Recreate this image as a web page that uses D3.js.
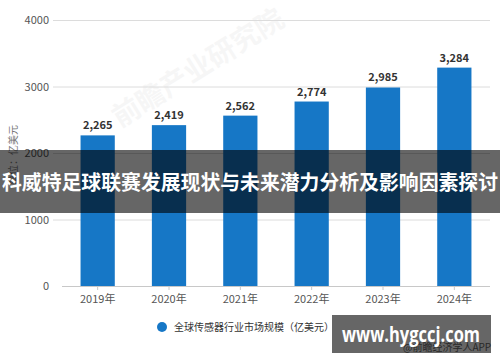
<!DOCTYPE html>
<html>
<head>
<meta charset="utf-8">
<script src="https://cdn.jsdelivr.net/npm/d3@7"></script>
<style>
  body { margin: 0; background: #fff; }
  svg { display: block; font-family: "Noto Sans CJK SC", "Noto Sans", sans-serif; }
</style>
</head>
<body>
<svg id="chart" width="500" height="362"></svg>
<script>
// data
var years = ["2019年", "2020年", "2021年", "2022年", "2023年", "2024年"];
var sizes = [2265, 2419, 2562, 2774, 2985, 3284];
var yTicks = [0, 1000, 2000, 3000, 4000];
var seriesName = "全球传感器行业市场规模（亿美元）";
var unitLabel = "单位：亿美元";
var bannerText = "科威特足球联赛发展现状与未来潜力分析及影响因素探讨";

var svg = d3.select("#chart");
var barColor = "#1677c6";

var x = d3.scaleBand().domain(years).range([62, 490]).paddingInner(0.52).paddingOuter(0.26);
var y = d3.scaleLinear().domain([0, 4000]).range([286, 20]);

// watermark
svg.append("text").attr("x", 0).attr("y", 0)
  .attr("transform", "translate(120,128) rotate(-32)")
  .attr("font-size", 28).attr("font-weight", "bold")
  .attr("fill", "#000").attr("opacity", 0.03)
  .text("前瞻产业研究院");

// grid lines
svg.append("g").selectAll("line").data(yTicks.filter(function(d){ return d > 0; }))
  .enter().append("line")
  .attr("x1", 53).attr("x2", 490)
  .attr("y1", function(d){ return y(d) + 0.5; }).attr("y2", function(d){ return y(d) + 0.5; })
  .attr("stroke", "#dcdcdc").attr("stroke-width", 1);

// y labels
svg.append("g").selectAll("text").data(yTicks).enter().append("text")
  .attr("x", 49).attr("y", function(d){ return y(d) + 4; })
  .attr("text-anchor", "end").attr("font-size", 11).attr("fill", "#555")
  .text(function(d){ return d; });

// unit label
svg.append("text")
  .attr("transform", "translate(17,155) rotate(-90)")
  .attr("text-anchor", "middle").attr("font-size", 10).attr("fill", "#777")
  .text(unitLabel);

// bars
svg.append("g").selectAll("rect").data(sizes).enter().append("rect")
  .attr("x", function(d, i){ return x(years[i]); })
  .attr("y", function(d){ return y(d); })
  .attr("width", x.bandwidth())
  .attr("height", function(d){ return y(0) - y(d); })
  .attr("fill", barColor);

// value labels
svg.append("g").selectAll("text").data(sizes).enter().append("text")
  .attr("x", function(d, i){ return x(years[i]) + x.bandwidth() / 2; })
  .attr("y", function(d){ return y(d) - 6; })
  .attr("text-anchor", "middle").attr("font-size", 11).attr("font-weight", "bold")
  .attr("fill", "#333")
  .text(function(d){ return d3.format(",")(d); });

// x axis
var xAxis = d3.axisBottom(x).tickSize(4).tickPadding(5);
var gx = svg.append("g").attr("transform", "translate(0," + y(0) + ")").call(xAxis);
gx.select(".domain").attr("stroke", "#c8c8c8").attr("d", "M62,0.5H490");
gx.selectAll(".tick line").attr("stroke", "#c8c8c8");
gx.selectAll(".tick text").attr("font-size", 11).attr("fill", "#555")
  .attr("font-family", "\"Noto Sans CJK SC\", sans-serif");

// legend
svg.append("circle").attr("cx", 162).attr("cy", 327).attr("r", 5).attr("fill", barColor);
svg.append("text").attr("x", 174).attr("y", 331).attr("font-size", 10).attr("fill", "#333")
  .text(seriesName);

// source text
svg.append("text").attr("x", 403).attr("y", 351).attr("font-size", 10).attr("fill", "#666")
  .text("@前瞻经济学人APP");

// banner overlay
svg.append("rect").attr("x", 0).attr("y", 150).attr("width", 500).attr("height", 63)
  .attr("fill", "#000").attr("opacity", 0.6);
svg.append("text").attr("x", 250).attr("y", 190)
  .attr("text-anchor", "middle").attr("font-size", 20.5).attr("font-weight", "bold")
  .attr("fill", "#fff").attr("textLength", 496).attr("lengthAdjust", "spacingAndGlyphs")
  .text(bannerText);

// site badge
svg.append("rect").attr("x", 332).attr("y", 315).attr("width", 159).attr("height", 38)
  .attr("fill", "#000").attr("opacity", 0.6);
svg.append("text").attr("x", 411).attr("y", 342)
  .attr("text-anchor", "middle").attr("font-size", 21).attr("font-weight", "bold")
  .attr("fill", "#fff").attr("font-family", "\"Open Sans\", \"DejaVu Sans\", sans-serif")
  .attr("textLength", 138).attr("lengthAdjust", "spacingAndGlyphs")
  .text("www.hygccj.com");
</script>
</body>
</html>
